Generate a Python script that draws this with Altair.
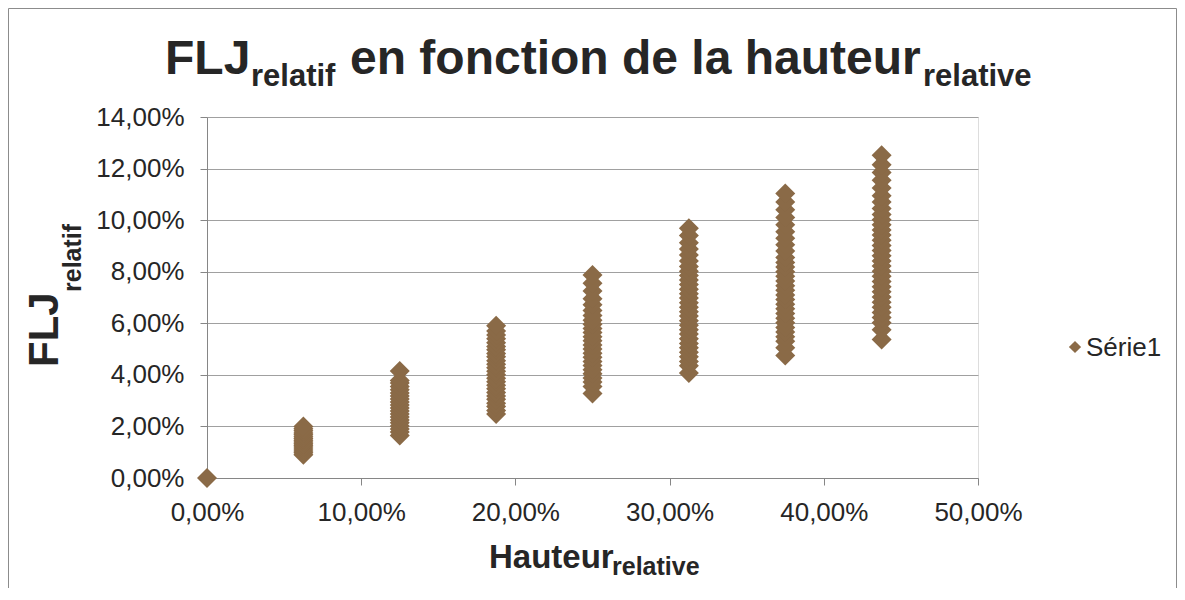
import altair as alt
import pandas as pd

# ---- data (relative height, FLJ relative in %) ----
heights = [0.0, 0.0625, 0.125, 0.1875, 0.25, 0.3125, 0.375, 0.4375]

flj_h0 = [0.00]
flj_h1 = [0.90, 0.98, 1.05, 1.12, 1.20, 1.27, 1.33, 1.40, 1.46, 1.53, 1.60, 1.68, 1.75, 1.83, 1.91, 2.00]
flj_h2 = [1.65, 1.78, 1.90, 2.02, 2.14, 2.25, 2.37, 2.48, 2.60, 2.71, 2.83, 2.95, 3.06, 3.18, 3.30, 3.42,
          3.55, 3.68, 3.78, 4.15]
flj_h3 = [2.48, 2.62, 2.77, 2.90, 3.05, 3.18, 3.32, 3.46, 3.60, 3.73, 3.87, 4.00, 4.14, 4.28, 4.41, 4.55,
          4.70, 4.83, 4.97, 5.10, 5.25, 5.40, 5.55, 5.70, 5.90]
flj_h4 = [3.28, 3.55, 3.72, 3.88, 4.04, 4.20, 4.36, 4.52, 4.68, 4.84, 5.00, 5.16, 5.32, 5.48, 5.64, 5.80,
          5.96, 6.12, 6.30, 6.50, 6.72, 6.95, 7.25, 7.55, 7.87]
flj_h5 = [4.07, 4.35, 4.52, 4.70, 4.88, 5.05, 5.22, 5.40, 5.58, 5.75, 5.92, 6.10, 6.28, 6.45, 6.62, 6.80,
          6.98, 7.15, 7.32, 7.50, 7.68, 7.85, 8.02, 8.20, 8.42, 8.65, 8.88, 9.12, 9.40, 9.69]
flj_h6 = [4.75, 5.05, 5.30, 5.48, 5.66, 5.84, 6.02, 6.20, 6.38, 6.56, 6.74, 6.92, 7.10, 7.28, 7.46, 7.64,
          7.82, 8.00, 8.18, 8.36, 8.55, 8.80, 9.05, 9.30, 9.55, 9.82, 10.10, 10.40, 10.70, 11.03]
flj_h7 = [5.37, 5.75, 6.02, 6.22, 6.42, 6.62, 6.82, 7.02, 7.22, 7.42, 7.62, 7.82, 8.02, 8.22, 8.42, 8.62,
          8.82, 9.02, 9.22, 9.42, 9.62, 9.82, 10.02, 10.22, 10.45, 10.70, 10.95, 11.25, 11.55, 11.85,
          12.15, 12.52]

flj_columns = [flj_h0, flj_h1, flj_h2, flj_h3, flj_h4, flj_h5, flj_h6, flj_h7]

x_ticks = [0.0, 0.1, 0.2, 0.3, 0.4, 0.5]
y_ticks = [0.0, 0.02, 0.04, 0.06, 0.08, 0.10, 0.12, 0.14]
series_name = "Série1"

rows = []
for h, col in zip(heights, flj_columns):
    for v in col:
        rows.append({"hauteur": h, "flj": v / 100.0})
df = pd.DataFrame(rows)

BROWN = "#8A6A47"
FONT = "Liberation Sans"
TXT = "#262626"
W, H = 771, 361
TOTAL_W, TOTAL_H = 1169, 580
PAD_L, PAD_T = 199, 109

one = alt.Data(values=[{"a": 1}])

def text_layer(txt, x, y, size, bold=False, angle=0, align="left", baseline="alphabetic"):
    kw = dict(text=txt, font=FONT, fontSize=size, color=TXT, align=align, baseline=baseline)
    if bold:
        kw["fontWeight"] = "bold"
    if angle:
        kw["angle"] = angle
    return alt.Chart(one).mark_text(**kw).encode(x=alt.value(x), y=alt.value(y))

label_expr = "replace(format(datum.value, '.2%'), '.', ',')"

border = alt.Chart(one).mark_rect(fillOpacity=0, stroke="#8c8c8c", strokeWidth=1).encode(
    x=alt.value(-198.5), x2=alt.value(969.5), y=alt.value(-108.5), y2=alt.value(495)
)

points = alt.Chart(df).mark_point(shape="diamond", filled=True, size=400, color=BROWN, opacity=1).encode(
    x=alt.X("hauteur:Q", scale=alt.Scale(domain=[0, 0.5], nice=False),
            axis=alt.Axis(values=x_ticks, labelExpr=label_expr, title=None, grid=False,
                          labelFlush=False, labelOverlap=False,
                          domainColor="#868686", tickColor="#868686", tickSize=7,
                          labelFont=FONT, labelFontSize=26, labelColor=TXT, labelPadding=14)),
    y=alt.Y("flj:Q", scale=alt.Scale(domain=[0, 0.14], nice=False),
            axis=alt.Axis(values=y_ticks, labelExpr=label_expr, title=None, grid=True,
                          labelFlush=False, labelOverlap=False,
                          gridColor="#a0a0a0", domainColor="#868686", tickColor="#868686", tickSize=7,
                          labelFont=FONT, labelFontSize=26, labelColor=TXT, labelPadding=16)),
)

# Title with subscripts
title_main = text_layer("FLJ", -42, -43, 48, bold=True)
title_sub1 = text_layer("relatif", 44, -31, 31, bold=True)
title_mid = text_layer("en fonction de la hauteur", 143, -43, 48, bold=True)
title_sub2 = text_layer("relative", 716, -31, 31, bold=True)

# x-axis title
xt_main = text_layer("Hauteur", 282, 451, 33, bold=True)
xt_sub = text_layer("relative", 405, 458, 25, bold=True)

# y-axis title (rotated)
yt_main = text_layer("FLJ", -149, 250, 42, bold=True, angle=270)
yt_sub = text_layer("relatif", -126, 175, 25, bold=True, angle=270)

# legend
leg_sym = alt.Chart(one).mark_point(shape="diamond", filled=True, size=150, color=BROWN, opacity=1).encode(
    x=alt.value(868), y=alt.value(230))
leg_txt = text_layer(series_name, 879, 231, 26, baseline="middle")

chart = alt.layer(
    border, points, title_main, title_sub1, title_mid, title_sub2,
    xt_main, xt_sub, yt_main, yt_sub, leg_sym, leg_txt
).properties(
    width=W, height=H,
    autosize=alt.AutoSizeParams(type="none"),
    padding={"left": PAD_L, "top": PAD_T, "right": TOTAL_W - PAD_L - W, "bottom": TOTAL_H - PAD_T - H},
).configure_view(stroke=None).configure(background="white")

chart.save("out.html", embed_options={"renderer": "svg", "actions": False})
